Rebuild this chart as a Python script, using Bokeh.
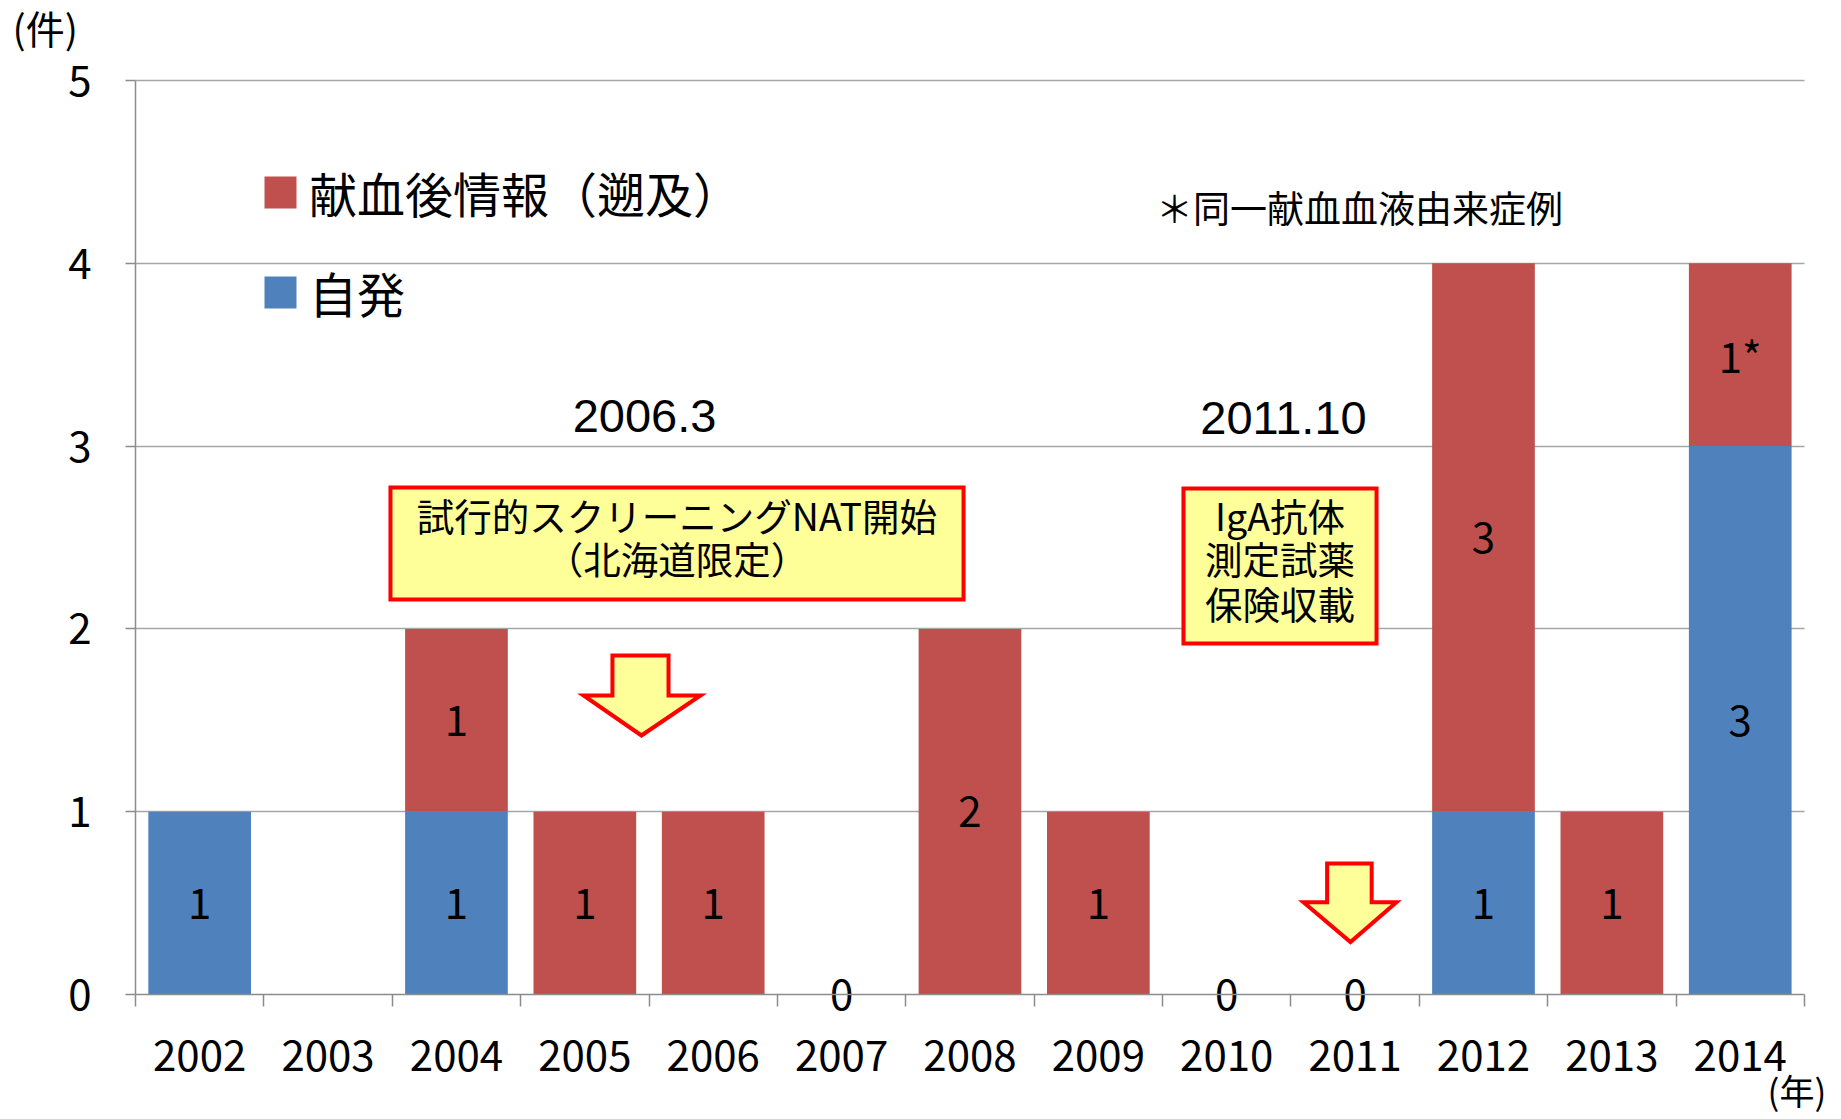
from bokeh.plotting import figure
from bokeh.models import (Range1d, FixedTicker, LinearAxis, ColumnDataSource, Legend,
                          LegendItem, Grid)
from bokeh.core.properties import value
from bokeh.embed import file_html
from bokeh.resources import INLINE

# ---- data ----
years = ["2002", "2003", "2004", "2005", "2006", "2007", "2008",
         "2009", "2010", "2011", "2012", "2013", "2014"]
spontaneous = [1, 0, 1, 0, 0, 0, 0, 0, 0, 0, 1, 0, 3]          # 自発
retrospective = [0, 0, 1, 1, 1, 0, 2, 1, 0, 0, 3, 1, 1]        # 献血後情報（遡及）
blue_labels = ["1", "", "1", "", "", "", "", "", "", "", "1", "", "3"]
red_labels = ["", "", "1", "1", "1", "0", "2", "1", "0", "0", "3", "1", "1*"]
y_ticks = [0, 1, 2, 3, 4, 5]
legend_names = ["献血後情報（遡及）", "自発"]

BLUE = "#4F81BD"
RED = "#C0504D"
JP = "Noto Sans CJK JP"
AX = "#8C8C8C"

n = len(years)
xs = [i + 0.5 for i in range(n)]
src = ColumnDataSource(dict(
    x=xs, year=years, blue=spontaneous, red=retrospective,
    blue_mid=[b / 2 for b in spontaneous],
    red_mid=[b + r / 2 for b, r in zip(spontaneous, retrospective)],
    blue_lab=blue_labels, red_lab=red_labels,
))

W, H = 1835, 1118
p = figure(width=W, height=H, x_range=Range1d(-1.0516, 13.242), y_range=Range1d(-0.6783, 5.4376),
           output_backend="svg", toolbar_location=None, x_axis_type=None, y_axis_type=None,
           min_border=0, min_border_left=0, min_border_right=0, min_border_top=0,
           min_border_bottom=0)
p.outline_line_color = None
p.background_fill_color = "white"

# axes (placed at data 0 so that the frame can hold outside texts)
yticker = FixedTicker(ticks=y_ticks)
yaxis = LinearAxis(ticker=yticker, fixed_location=0, bounds=(0, 5))
yaxis.axis_line_color = AX
yaxis.axis_line_width = 1.5
yaxis.major_tick_line_color = AX
yaxis.major_tick_line_width = 1.5
yaxis.major_tick_out = 10
yaxis.major_tick_in = 0
yaxis.minor_tick_line_color = None
yaxis.major_label_text_font = JP
yaxis.major_label_text_font_size = "42px"
yaxis.major_label_text_color = "black"
yaxis.major_label_standoff = 34
p.add_layout(yaxis, "left")

xticker = FixedTicker(ticks=xs, minor_ticks=list(range(n + 1)))
xaxis = LinearAxis(ticker=xticker, fixed_location=0, bounds=(0, n))
xaxis.major_label_overrides = {x: y for x, y in zip(xs, years)}
xaxis.axis_line_color = AX
xaxis.axis_line_width = 1.5
xaxis.major_tick_line_color = None
xaxis.minor_tick_line_color = AX
xaxis.minor_tick_line_width = 1.5
xaxis.minor_tick_out = 12
xaxis.minor_tick_in = 0
xaxis.major_label_text_font = JP
xaxis.major_label_text_font_size = "42px"
xaxis.major_label_text_color = "black"
xaxis.major_label_standoff = 33
p.add_layout(xaxis, "below")

grid = Grid(dimension=1, ticker=FixedTicker(ticks=y_ticks[1:]), grid_line_color="#A6A6A6",
            grid_line_width=1.5, cross_bounds=(0, n))
p.add_layout(grid)

# bars
rs = p.vbar_stack(["blue", "red"], x="x", width=0.8, color=[BLUE, RED], line_color=None, source=src)

# bar labels
p.text(x="x", y="blue_mid", text="blue_lab", source=src, text_align="center", text_baseline="middle",
       text_font=value(JP), text_font_size="42px", text_color="black")
p.text(x="x", y="red_mid", text="red_lab", source=src, text_align="center", text_baseline="middle",
       text_font=value(JP), text_font_size="42px", text_color="black")

# legend
legend = Legend(items=[LegendItem(label=legend_names[0], renderers=[rs[1]]),
                       LegendItem(label=legend_names[1], renderers=[rs[0]])],
                location=(260, 791), glyph_width=40, glyph_height=40, spacing=30,
                padding=0, margin=0, label_standoff=9, border_line_color=None,
                background_fill_alpha=0, label_text_font=JP, label_text_font_size="48px",
                label_text_color="black")
p.add_layout(legend)

# annotation boxes
p.quad(left=[1.986, 8.163], right=[6.45, 9.667], top=[2.774, 2.768], bottom=[2.161, 1.920],
       fill_color="#FFFF99", line_color="#FF0000", line_width=4, line_join="miter")

ann_x = [4.217, 4.217, 8.915, 8.915, 8.915]
ann_y = [2.628, 2.393, 2.628, 2.388, 2.142]
ann_t = ["試行的スクリーニングNAT開始", "（北海道限定）", "IgA抗体", "測定試薬", "保険収載"]
p.text(x=ann_x, y=ann_y, text=ann_t, text_align="center", text_baseline="middle",
       text_font=value(JP), text_font_size="37.5px", text_color="black")

p.text(x=[3.965, 8.942], y=[3.166, 3.156], text=["2006.3", "2011.10"], text_align="center",
       text_baseline="middle", text_font=value("Liberation Sans"), text_font_size="47px",
       text_color="black")
p.text(x=[7.95], y=[4.31], text=["＊同一献血血液由来症例"], text_align="left",
       text_baseline="middle", text_font=value(JP), text_font_size="37px", text_color="black")

# arrows
def arrow(xl, xr, hl, hr, tx, ytop, yhead, ytip):
    return ([xl, xr, xr, hr, tx, hl, xl], [ytop, ytop, yhead, yhead, ytip, yhead, yhead])

a1 = arrow(3.715, 4.152, 3.49, 4.401, 3.941, 1.855, 1.636, 1.417)
a2 = arrow(9.282, 9.629, 9.098, 9.822, 9.464, 0.717, 0.505, 0.287)
p.patches(xs=[a1[0], a2[0]], ys=[a1[1], a2[1]], fill_color="#FFFF99", line_color="#FF0000",
          line_width=4, line_join="miter")

# unit labels
p.text(x=[-0.958], y=[5.295], text=["(件)"], text_align="left", text_baseline="middle",
       text_font=value(JP), text_font_size="39px", text_color="black")
p.text(x=[13.17], y=[-0.52], text=["(年)"], text_align="right", text_baseline="middle",
       text_font=value(JP), text_font_size="35px", text_color="black")

open("out.html", "w").write(file_html(p, INLINE))
